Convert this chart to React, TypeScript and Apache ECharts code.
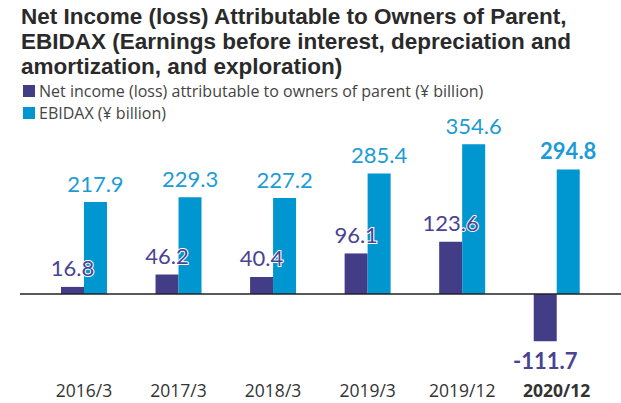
import React, { useEffect, useRef } from "react";
import * as echarts from "echarts";

const categories = ["2016/3", "2017/3", "2018/3", "2019/3", "2019/12", "2020/12"];
const netIncome = [16.8, 46.2, 40.4, 96.1, 123.6, -111.7];
const ebidax = [217.9, 229.3, 227.2, 285.4, 354.6, 294.8];
const highlightCategory = "2020/12";
const titleText =
  "Net Income (loss) Attributable to Owners of Parent,\nEBIDAX (Earnings before interest, depreciation and\namortization, and exploration)";
const seriesNames = [
  "Net income (loss) attributable to owners of parent (¥ billion)",
  "EBIDAX (¥ billion)",
];

const PURPLE = "#433D87";
const CYAN = "#0096CF";
const PURPLE_LABEL = "#4A4391";
const CYAN_LABEL = "#1C9BD6";
const FONT = "Lato, 'Noto Sans', sans-serif";
const FONT2 = "'Open Sans', 'Noto Sans', sans-serif";
const FONT_TITLE = "'Liberation Sans', Arial, sans-serif";

export default function App() {
  const ref = useRef<HTMLDivElement>(null);

  useEffect(() => {
    if (!ref.current) return;
    const chart = echarts.init(ref.current, null, { renderer: "svg" });

    const mkData = (vals: number[]) =>
      vals.map((v, i) => {
        const bold = categories[i] === highlightCategory;
        return {
          value: v,
          label: {
            position: v < 0 ? "bottom" : "top",
            fontWeight: bold ? "bold" : "normal",
          },
        };
      });

    chart.setOption({
      animation: false,
      textStyle: { fontFamily: FONT2 },
      title: {
        text: titleText,
        left: 21,
        top: 4,
        padding: 0,
        textStyle: {
          fontFamily: FONT_TITLE,
          fontSize: 22.5,
          lineHeight: 25,
          fontWeight: "bold",
          color: "#2a2a2a",
        },
      },
      legend: {
        orient: "vertical",
        left: 23,
        top: 83,
        padding: 0,
        itemWidth: 12,
        itemHeight: 12,
        itemGap: 6,
        icon: "rect",
        textStyle: { fontFamily: FONT2, fontSize: 16, color: "#444", padding: [0, 0, 0, -1] },
        data: seriesNames,
      },
      grid: { left: 36.7, right: 17, top: 125.2, bottom: 45.7 },
      xAxis: {
        type: "category",
        data: categories.map((c) => ({
          value: c,
          textStyle: { fontWeight: c === highlightCategory ? "bold" : "normal" },
        })),
        axisLine: { show: false, onZero: false },
        axisTick: { show: false },
        axisLabel: { fontFamily: FONT2, fontSize: 17.5, color: "#333", margin: 24 },
      },
      yAxis: {
        type: "value",
        min: -150,
        max: 400,
        show: false,
        splitLine: { show: false },
      },
      series: [
        {
          name: seriesNames[0],
          type: "bar",
          barWidth: 23,
          barGap: "0%",
          itemStyle: { color: PURPLE },
          label: {
            show: true,
            distance: 8,
            fontFamily: FONT,
            fontSize: 22,
            color: PURPLE_LABEL,
            textBorderColor: "#fff",
            textBorderWidth: 2,
          },
          data: mkData(netIncome),
        },
        {
          name: seriesNames[1],
          type: "bar",
          barWidth: 23,
          barGap: "0%",
          itemStyle: { color: CYAN },
          label: {
            show: true,
            distance: 8,
            fontFamily: FONT,
            fontSize: 22,
            color: CYAN_LABEL,
            textBorderColor: "#fff",
            textBorderWidth: 2,
          },
          data: mkData(ebidax),
        },
      ],
    });

    const y0 = chart.convertToPixel({ yAxisIndex: 0 }, 0) as number;
    chart.setOption({
      graphic: [
        {
          type: "line",
          z: 10,
          shape: { x1: 20, y1: y0, x2: 621, y2: y0 },
          style: { stroke: "#222", lineWidth: 1.5 },
        },
      ],
    });

    return () => chart.dispose();
  }, []);

  return (
    <div
      ref={ref}
      style={{ position: "fixed", left: 0, top: 0, width: 621, height: 403, background: "#fff" }}
    />
  );
}
